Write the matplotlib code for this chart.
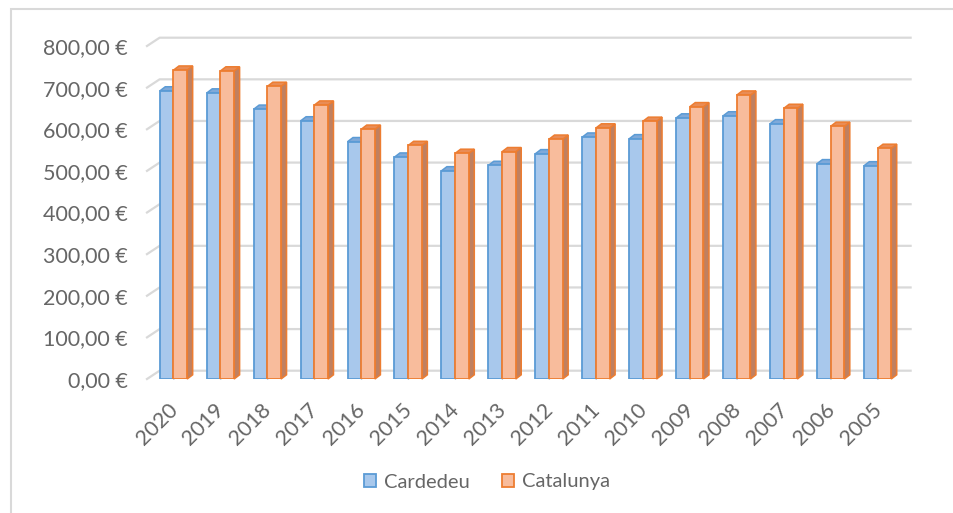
import matplotlib
matplotlib.use("Agg")
import matplotlib.pyplot as plt
from matplotlib.patches import Polygon, Patch, Rectangle
from matplotlib.lines import Line2D

years = ["2020", "2019", "2018", "2017", "2016", "2015", "2014", "2013",
         "2012", "2011", "2010", "2009", "2008", "2007", "2006", "2005"]
cardedeu = [692, 687, 648, 620, 570, 533, 500, 513, 541, 581, 577, 627, 632, 613, 517, 512]
catalunya = [742, 740, 703, 658, 600, 561, 542, 546, 576, 603, 619, 654, 682, 650, 607, 554]
yticks = [0, 100, 200, 300, 400, 500, 600, 700, 800]
series_names = ["Cardedeu", "Catalunya"]

plt.rcParams['font.family'] = ['Lato', 'DejaVu Sans']

W, H = 954, 513
fig = plt.figure(figsize=(W / 100, H / 100), dpi=100)

# axes = front plane in pixels
x_left, x_right = 147, 898
y_zero, y_top = 379, 46
ax = fig.add_axes([x_left / W, (H - y_zero) / H, (x_right - x_left) / W, (y_zero - y_top) / H])
n = len(years)
off = 0.064
ax.set_xlim(-0.5 - off, n - 0.5 - off)
ax.set_ylim(0, 800)
for s in ax.spines.values():
    s.set_visible(False)
ax.tick_params(length=0)

px_x = (x_right - x_left) / n      # pixels per x unit
px_y = (y_zero - y_top) / 800.0    # pixels per value unit

# back wall gridlines
wdx = 12.6 / px_x
wdy = 8.3 / px_y
grid_c = "#d9d9d9"
x0, x1 = ax.get_xlim()
for v in yticks:
    ax.add_line(Line2D([x0, x0 + wdx, x1 + wdx], [v, v + wdy, v + wdy],
                       color=grid_c, lw=1.6, clip_on=False, zorder=0))

# bars
bw = 13.7 / px_x
bdx = 5.5 / px_x
bdy = 4.2 / px_y
specs = [
    (cardedeu, -bw / 2, "#a8c8ec", "#5b9bd5", "#6f98c8", "#7fa9d9", 2),
    (catalunya, bw / 2, "#f8bc9c", "#ed7d31", "#c08060", "#e98c55", 3),
]
xs = list(range(n))
for vals, dxo, face, edge, side, top, z in specs:
    bars = ax.bar([x + dxo for x in xs], vals, width=bw, color=face, edgecolor=edge,
                  linewidth=1.3, zorder=z)
    for b in bars:
        bx0 = b.get_x()
        bx1 = bx0 + b.get_width()
        h = b.get_height()
        ax.add_patch(Polygon([(bx1, 0), (bx1, h), (bx1 + bdx, h + bdy), (bx1 + bdx, bdy)],
                             closed=True, facecolor=side, edgecolor=edge, lw=1.1,
                             zorder=z - 0.1, clip_on=False))
        ax.add_patch(Polygon([(bx0, h), (bx1, h), (bx1 + bdx, h + bdy), (bx0 + bdx, h + bdy)],
                             closed=True, facecolor=top, edgecolor=edge, lw=1.1,
                             zorder=z - 0.1, clip_on=False))

text_c = "#666666"
fs = 15.5
ax.set_yticks(yticks)
ax.set_yticklabels([f"{v},00 €" for v in yticks], fontsize=fs, color=text_c)
ax.tick_params(axis='y', pad=14)
ax.set_xticks([x + 0.17 for x in xs])
ax.set_xticklabels(years, rotation=45, ha='right', va='top', fontsize=fs, color=text_c)
ax.tick_params(axis='x', pad=15)

handles = [Patch(facecolor="#a8c8ec", edgecolor="#5b9bd5", lw=1.3),
           Patch(facecolor="#f8bc9c", edgecolor="#ed7d31", lw=1.3)]
leg = fig.legend(handles, series_names, loc='center', bbox_to_anchor=(487 / W, (H - 482) / H),
                 ncol=2, frameon=False, fontsize=14.5, handlelength=0.6, handleheight=0.6,
                 handletextpad=0.4, columnspacing=1.6)
for t in leg.get_texts():
    t.set_color(text_c)

# outer chart frame
fig.patches.append(Rectangle((11 / W, -0.1), 1.2, (H - 9) / H + 0.1, transform=fig.transFigure,
                             fill=False, edgecolor="#d9d9d9", lw=1.5))

fig.savefig("out.png", dpi=100)
